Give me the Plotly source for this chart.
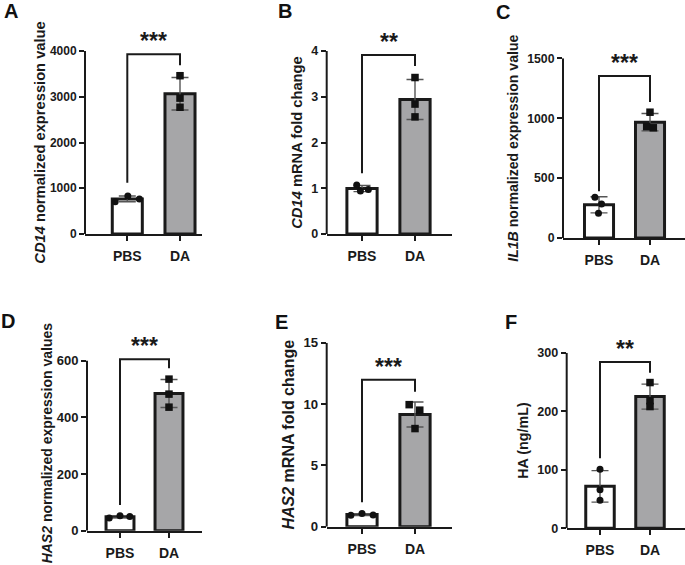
import numpy as np
import plotly.graph_objects as go

# ---------------- data ----------------
GROUPS = ["PBS", "DA"]

A_PBS = [706, 830, 765]
A_DA = [3460, 2970, 2770]
A_TICKS = [0, 1000, 2000, 3000, 4000]

B_PBS = [1.07, 0.94, 0.97]
B_DA = [3.42, 2.84, 2.56]
B_TICKS = [0, 1, 2, 3, 4]

C_PBS = [340, 284, 206]
C_DA = [1050, 930, 920]
C_TICKS = [0, 500, 1000, 1500]

D_PBS = [45, 53, 50]
D_DA = [535, 482, 436]
D_TICKS = [0, 200, 400, 600]

E_PBS = [0.93, 1.08, 0.96]
E_DA = [9.95, 9.50, 8.00]
E_TICKS = [0, 5, 10, 15]

F_PBS = [101, 66, 48]
F_DA = [249, 218, 208]
F_TICKS = [0, 100, 200, 300]

SIGNIF = ["***", "**", "***", "***", "***", "**"]
LETTERS = ["A", "B", "C", "D", "E", "F"]
YTITLES = [
    "<i>CD14</i> normalized expression value",
    "<i>CD14</i> mRNA fold change",
    "<i>IL1B</i> normalized expression value",
    "<i>HAS2</i> normalized expression values",
    "<i>HAS2</i> mRNA fold change",
    "HA (ng/mL)",
]

# ---------------- layout / style ----------------
W, H = 685, 565
FONT = "Liberation Sans, Arial, Helvetica, sans-serif"
DA_FILL = "#a6a6a8"
ERR_COLOR = "#555555"
INK = "#1a1a1a"

# pixel geometry per panel: spine x, axis right end, PBS centre, DA centre,
# pixel of y=0, pixel of top tick, range headroom, title size, standoff, y tick size
GEOM = [
    dict(xs=85, xe=202, c0=127.3, c1=180, p0=234, pt=51, head=1.0, tfs=14.7, so=0, yfs=12),
    dict(xs=326.7, xe=452, c0=362, c1=415, p0=234, pt=51, head=1.0, tfs=14.7, so=5, yfs=12.5),
    dict(xs=563, xe=685, c0=599, c1=650, p0=238, pt=58.3, head=1.0, tfs=14.1, so=5, yfs=12.3),
    dict(xs=87, xe=202, c0=120, c1=169, p0=530.7, pt=360.7, head=1.03, tfs=14.0, so=0, yfs=13),
    dict(xs=326.7, xe=452, c0=362, c1=415, p0=526.7, pt=342.7, head=1.0, tfs=16.0, so=4, yfs=13.2),
    dict(xs=566.7, xe=685, c0=600, c1=650, p0=528.3, pt=352.7, head=1.0, tfs=14.3, so=5, yfs=12.6),
]
# jitter of the points (fraction of category spacing)
JIT = [
    ([-0.23, 0.01, 0.23], [0, 0, 0]),
    ([-0.10, -0.03, 0.12], [0, 0, 0]),
    ([-0.08, 0.05, -0.01], [0, -0.065, 0.065]),
    ([-0.22, 0.0, 0.20], [0, 0, 0]),
    ([-0.21, 0.0, 0.21], [-0.11, 0.09, 0]),
    ([0, 0, 0], [0, 0, 0]),
]
# bracket: top level, left leg end, right leg end (data units)
BRACKETS = [
    (3930, 1120, 3690),
    (3.91, 1.33, 3.67),
    (1352, 390, 1135),
    (605, 91, 573),
    (11.98, 2.0, 11.0),
    (284, 119.5, 265.7),
]
LETTER_POS = [(11, 11), (285, 11), (503, 12), (8, 321), (281, 322), (511, 322)]

PANELS = [
    (A_PBS, A_DA, A_TICKS),
    (B_PBS, B_DA, B_TICKS),
    (C_PBS, C_DA, C_TICKS),
    (D_PBS, D_DA, D_TICKS),
    (E_PBS, E_DA, E_TICKS),
    (F_PBS, F_DA, F_TICKS),
]

fig = go.Figure()
shapes = []
annotations = []
layout_axes = {}

for i, (pbs, da, ticks) in enumerate(PANELS):
    n = i + 1
    sfx = "" if n == 1 else str(n)
    xa, ya = "x" + sfx, "y" + sfx
    g = GEOM[i]
    T = ticks[-1]

    u = g["c1"] - g["c0"]
    xrange = [(g["xs"] - g["c0"]) / u, (g["xe"] - g["c0"]) / u]
    s = (g["p0"] - g["pt"]) / T
    R = T * g["head"]
    ydom = [1 - g["p0"] / H, 1 - (g["p0"] - R * s) / H]
    xdom = [g["xs"] / W, min(g["xe"] / W, 1.0)]

    for k, vals in enumerate([pbs, da]):
        vals = np.array(vals, dtype=float)
        m = vals.mean()
        sd = vals.std(ddof=1)
        fig.add_trace(go.Bar(
            x=[k], y=[m], width=0.57, xaxis=xa, yaxis=ya,
            marker=dict(color="white" if k == 0 else DA_FILL,
                        line=dict(color=INK, width=3)),
            error_y=dict(type="data", array=[sd], visible=True,
                         color=ERR_COLOR, thickness=1.4, width=8.5),
            name=GROUPS[k], showlegend=False, hoverinfo="skip",
        ))
        fig.add_trace(go.Scatter(
            x=[k + j for j in JIT[i][k]], y=vals, mode="markers",
            xaxis=xa, yaxis=ya, showlegend=False, cliponaxis=False,
            marker=dict(symbol="circle" if k == 0 else "square",
                        size=7 if k == 0 else 7.5, color="#111111",
                        line=dict(width=0)),
        ))

    layout_axes["xaxis" + sfx] = dict(
        domain=xdom, range=xrange, anchor=ya,
        tickmode="array", tickvals=[0, 1], ticktext=GROUPS,
        showline=True, linecolor=INK, linewidth=2,
        ticks="outside", ticklen=5, tickwidth=2, tickcolor=INK,
        showgrid=False, zeroline=False, ticklabelstandoff=3,
        tickfont=dict(family=FONT, size=14, color=INK, weight="bold"),
        fixedrange=True,
    )
    layout_axes["yaxis" + sfx] = dict(
        domain=ydom, range=[0, R], anchor=xa,
        tickmode="array", tickvals=ticks,
        showline=False, ticks="outside", ticklen=5, tickwidth=2,
        tickcolor=INK, showgrid=False, zeroline=False,
        tickfont=dict(family=FONT, size=g["yfs"], color=INK, weight="bold"),
        title=dict(text=YTITLES[i], standoff=g["so"],
                   font=dict(family=FONT, size=g["tfs"], color=INK, weight="bold")),
        fixedrange=True,
    )
    # y spine ending at the top tick
    shapes.append(dict(type="line", xref=xa + " domain", yref=ya,
                       x0=0, x1=0, y0=0, y1=T,
                       line=dict(color=INK, width=2)))
    top, le, re_ = BRACKETS[i]
    shapes.append(dict(type="path", xref=xa, yref=ya,
                       path=f"M 0,{le} L 0,{top} L 1,{top} L 1,{re_}",
                       line=dict(color=INK, width=2)))
    annotations.append(dict(text=SIGNIF[i], xref=xa, yref=ya, x=0.5, y=top,
                            xanchor="center", yanchor="bottom", yshift=-2,
                            showarrow=False,
                            font=dict(family=FONT, size=23, color=INK,
                                      weight="bold")))
    lx, ly = LETTER_POS[i]
    annotations.append(dict(text=LETTERS[i], xref="paper", yref="paper",
                            x=lx / W, y=1 - ly / H, xanchor="center",
                            yanchor="middle", showarrow=False,
                            font=dict(family=FONT, size=20, color="#111111",
                                      weight="bold")))

fig.update_layout(
    width=W, height=H,
    margin=dict(l=0, r=0, t=0, b=0, autoexpand=False),
    paper_bgcolor="white", plot_bgcolor="white",
    showlegend=False, shapes=shapes, annotations=annotations,
    font=dict(family=FONT, color=INK),
    **layout_axes,
)

fig.write_html("out.html", config={"displayModeBar": False},
               post_script="document.body.style.margin='0px';"
                           "document.body.style.overflow='hidden';")
